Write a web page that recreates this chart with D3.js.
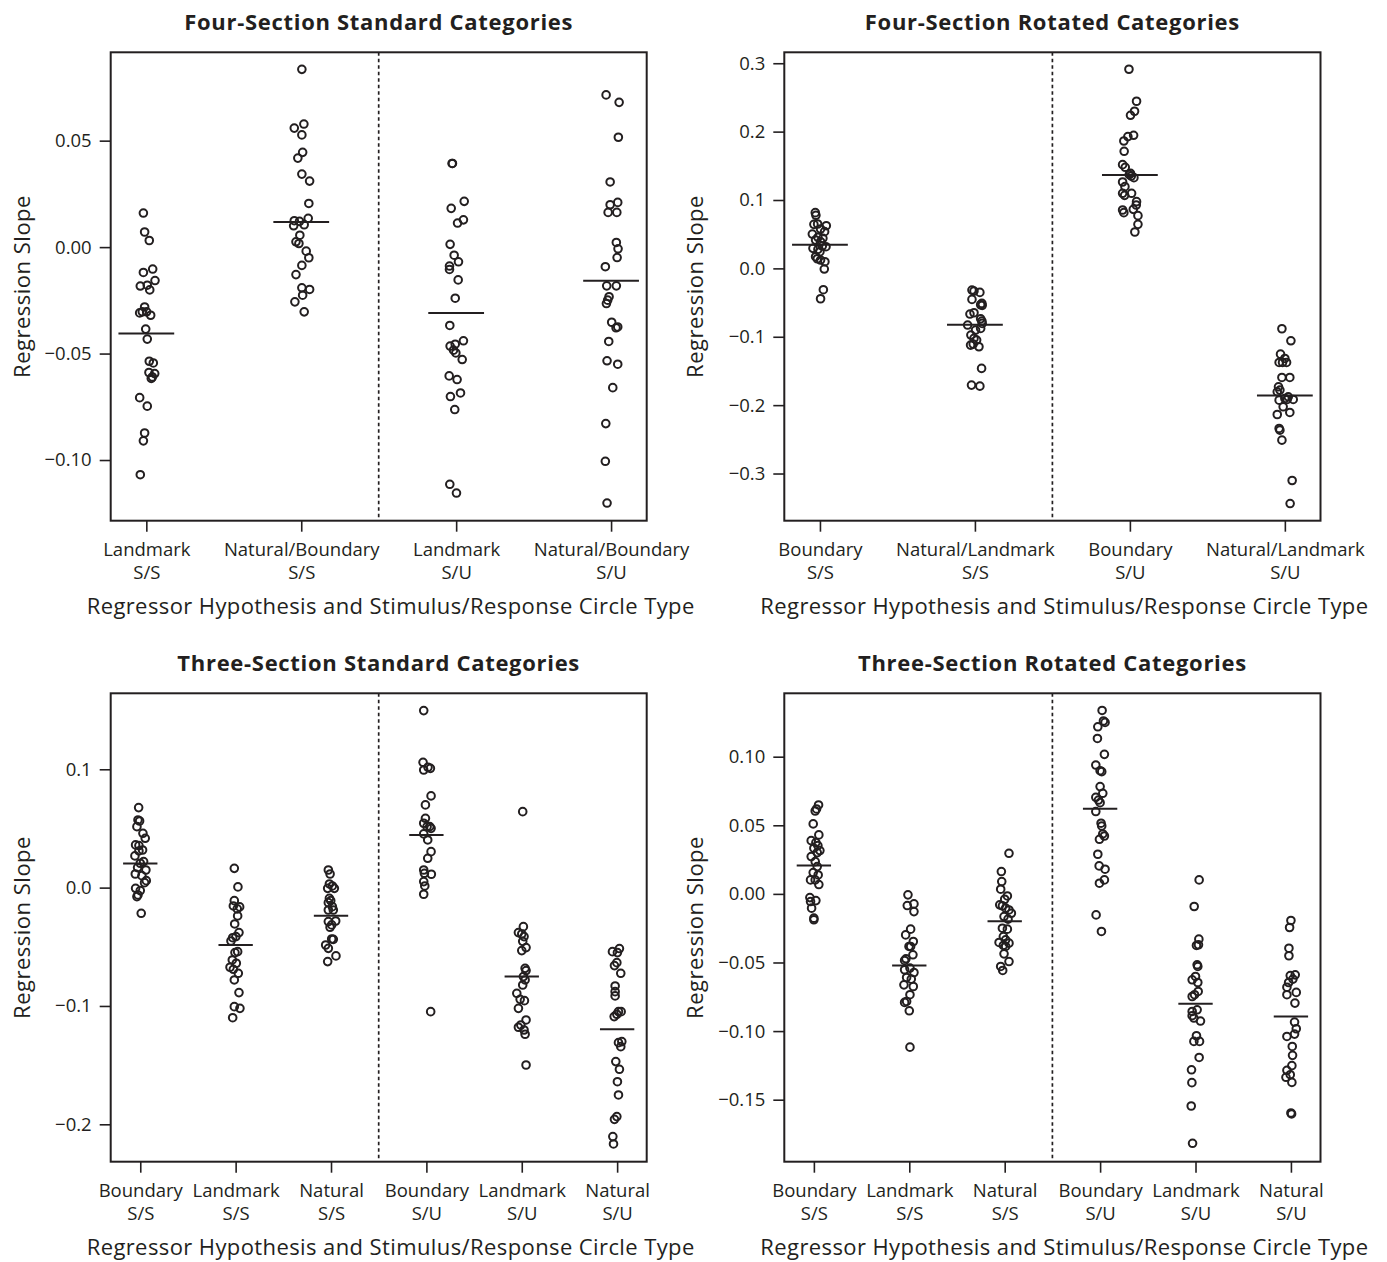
<!DOCTYPE html>
<html>
<head>
<meta charset="utf-8">
<script src="https://cdn.jsdelivr.net/npm/d3@7.9.0/dist/d3.min.js"></script>
<style>
  body { margin: 0; background: #fff; }
  svg { display: block; font-family: "Open Sans", "Noto Sans", sans-serif; }
</style>
</head>
<body>
<svg id="chart" width="1387" height="1262"></svg>
<script>
// ---- data: four-section standard ----
const fourStdCategories = [["Landmark", "S/S"], ["Natural/Boundary", "S/S"], ["Landmark", "S/U"], ["Natural/Boundary", "S/U"]];
const fourStdTicks = [-0.10, -0.05, 0.00, 0.05];
const fourStdMeans = [-0.0406, 0.0118, -0.0309, -0.0158];
const fourStdValues = [
  [0.016, 0.0071, 0.0031, -0.0103, -0.0119, -0.0157, -0.0183, -0.0179, -0.0201, -0.0281, -0.0304, -0.0309, -0.0304, -0.032, -0.0385, -0.0432, -0.0536, -0.0544, -0.0589, -0.0594, -0.0617, -0.061, -0.0707, -0.0747, -0.0873, -0.091, -0.1069],
  [0.0835, 0.0559, 0.0578, 0.0527, 0.0445, 0.0418, 0.0343, 0.031, 0.0205, 0.0135, 0.0124, 0.0121, 0.01, 0.0105, 0.0056, 0.0025, 0.0017, -0.0019, -0.005, -0.0086, -0.0129, -0.0191, -0.0199, -0.0226, -0.0257, -0.0304],
  [0.0393, 0.0393, 0.0215, 0.0182, 0.0128, 0.0113, 0.0013, -0.0038, -0.0069, -0.0089, -0.0105, -0.0154, -0.024, -0.0368, -0.044, -0.0465, -0.0456, -0.0484, -0.0497, -0.0528, -0.0605, -0.0622, -0.0685, -0.0702, -0.0763, -0.1114, -0.1155],
  [0.0715, 0.068, 0.0516, 0.0306, 0.021, 0.0199, 0.0163, 0.0163, 0.0022, -0.0008, -0.0049, -0.0092, -0.0182, -0.0182, -0.0233, -0.0249, -0.0265, -0.0353, -0.0379, -0.0375, -0.0443, -0.0534, -0.055, -0.066, -0.0829, -0.1006, -0.1202]
];
const fourStdJitter = [
  [-0.019, -0.011, 0.019, 0.041, -0.019, 0.056, -0.039, 0.006, 0.022, -0.011, -0.026, -0.043, 0.002, 0.028, -0.004, 0.006, 0.019, 0.045, 0.017, 0.054, 0.032, 0.039, -0.043, 0.006, -0.011, -0.019, -0.039],
  [0.004, -0.045, 0.017, 0.004, 0.009, -0.022, 0.004, 0.054, 0.049, 0.045, -0.045, -0.011, -0.049, 0.019, -0.009, -0.034, -0.015, 0.032, 0.049, 0.004, -0.034, 0.004, 0.054, 0.009, -0.041, 0.019],
  [-0.026, -0.024, 0.052, -0.032, 0.047, 0.009, -0.039, -0.013, 0.015, -0.043, -0.043, 0.013, -0.006, -0.041, 0.047, -0.039, -0.006, -0.017, -0.002, 0.039, -0.045, 0.006, 0.028, -0.037, -0.009, -0.041, 0.002],
  [-0.032, 0.052, 0.047, -0.006, 0.043, -0.006, -0.019, 0.037, 0.034, 0.045, 0.039, -0.037, -0.028, 0.034, -0.013, -0.022, -0.03, 0.004, 0.032, 0.043, -0.015, -0.026, 0.043, 0.011, -0.034, -0.037, -0.026]
];

// ---- data: four-section rotated ----
const fourRotCategories = [["Boundary", "S/S"], ["Natural/Landmark", "S/S"], ["Boundary", "S/U"], ["Natural/Landmark", "S/U"]];
const fourRotTicks = [-0.3, -0.2, -0.1, 0.0, 0.1, 0.2, 0.3];
const fourRotMeans = [0.0346, -0.0824, 0.1366, -0.1859];
const fourRotValues = [
  [0.0815, 0.0776, 0.0644, 0.0649, 0.0624, 0.0576, 0.0502, 0.0537, 0.0454, 0.0439, 0.0415, 0.039, 0.0317, 0.0293, 0.0278, 0.0327, 0.0244, 0.0171, 0.0141, 0.0122, 0.0098, -0.001, -0.0312, -0.0444],
  [-0.0317, -0.0332, -0.0351, -0.0454, -0.0512, -0.0532, -0.0541, -0.0668, -0.0649, -0.0737, -0.0771, -0.0805, -0.0829, -0.0878, -0.0902, -0.0976, -0.1024, -0.1122, -0.1107, -0.1146, -0.1049, -0.1463, -0.1707, -0.1722],
  [0.2912, 0.2444, 0.2298, 0.2239, 0.1946, 0.1927, 0.1863, 0.1712, 0.1517, 0.1478, 0.139, 0.1351, 0.1327, 0.1371, 0.1263, 0.1195, 0.1098, 0.1068, 0.1098, 0.0976, 0.0927, 0.0863, 0.0854, 0.0815, 0.0771, 0.0644, 0.0532],
  [-0.0883, -0.1059, -0.1254, -0.1317, -0.1376, -0.1376, -0.1376, -0.1595, -0.1595, -0.1732, -0.178, -0.1805, -0.1878, -0.1902, -0.1917, -0.1927, -0.1917, -0.2024, -0.2107, -0.2137, -0.2341, -0.2366, -0.2512, -0.3102, -0.3439]
];
const fourRotJitter = [
  [-0.03, -0.026, -0.039, -0.015, 0.041, 0.004, -0.049, 0.03, -0.013, 0.019, -0.028, 0.004, 0.039, -0.045, -0.013, 0.015, 0, -0.028, -0.017, 0.004, 0.032, 0.028, 0.022, 0.004],
  [-0.019, -0.006, 0.032, -0.019, 0.045, 0.037, 0.047, -0.032, -0.006, 0.037, 0.045, 0.047, -0.047, 0.037, 0.004, -0.026, -0.006, -0.028, -0.011, 0.026, 0.011, 0.043, -0.022, 0.032],
  [-0.006, 0.043, 0.03, 0.004, 0.024, -0.013, -0.039, -0.037, -0.047, -0.03, 0.004, 0.009, 0.026, -0.004, -0.047, -0.032, -0.047, -0.034, 0.011, 0.043, 0.041, 0.022, -0.047, -0.039, 0.052, 0.052, 0.032],
  [-0.019, 0.039, -0.028, 0, -0.037, -0.015, 0.011, 0.032, -0.019, -0.041, -0.032, -0.049, 0.022, 0, 0.054, -0.037, 0.015, -0.011, 0.032, -0.049, -0.037, -0.032, -0.019, 0.047, 0.034]
];

// ---- data: three-section standard ----
const threeStdCategories = [["Boundary", "S/S"], ["Landmark", "S/S"], ["Natural", "S/S"], ["Boundary", "S/U"], ["Landmark", "S/U"], ["Natural", "S/U"]];
const threeStdTicks = [-0.2, -0.1, 0.0, 0.1];
const threeStdMeans = [0.0203, -0.0485, -0.0237, 0.0445, -0.0752, -0.1197];
const threeStdValues = [
  [0.0676, 0.0572, 0.0563, 0.0515, 0.0459, 0.0417, 0.0361, 0.0355, 0.0318, 0.031, 0.0268, 0.022, 0.0206, 0.0169, 0.0149, 0.0115, 0.0101, 0.0059, 0.0042, -0.0006, -0.0025, -0.0062, -0.0076, -0.0217],
  [0.0163, 0.0006, -0.011, -0.0155, -0.0163, -0.018, -0.0239, -0.0307, -0.038, -0.0423, -0.0414, -0.0451, -0.0549, -0.0541, -0.0611, -0.0639, -0.0673, -0.069, -0.0724, -0.078, -0.0887, -0.102, -0.1006, -0.1099],
  [0.0149, 0.0115, 0.0031, 0.0014, -0.0006, -0.0006, -0.009, -0.011, -0.0127, -0.0161, -0.0189, -0.0189, -0.0282, -0.0287, -0.0315, -0.0335, -0.0437, -0.0434, -0.0485, -0.0513, -0.0577, -0.0625],
  [0.1496, 0.1059, 0.0994, 0.1017, 0.1008, 0.0775, 0.0699, 0.0586, 0.0544, 0.0515, 0.0515, 0.0501, 0.0454, 0.0403, 0.0304, 0.0248, 0.0149, 0.0121, 0.0113, 0.0051, 0.0014, -0.0056, -0.1048],
  [0.0642, -0.033, -0.038, -0.0392, -0.0414, -0.0454, -0.0507, -0.0532, -0.0682, -0.0701, -0.0752, -0.078, -0.0823, -0.0893, -0.0944, -0.0955, -0.102, -0.1118, -0.1161, -0.118, -0.1203, -0.1239, -0.1499],
  [-0.0541, -0.0515, -0.0549, -0.0659, -0.0634, -0.0724, -0.0831, -0.0879, -0.0915, -0.1048, -0.1048, -0.109, -0.107, -0.131, -0.1301, -0.1344, -0.147, -0.1535, -0.164, -0.1752, -0.1935, -0.1958, -0.2104, -0.2166]
];
const threeStdJitter = [
  [-0.017, -0.024, -0.007, -0.035, 0.028, 0.052, -0.049, -0.014, 0.024, -0.014, -0.056, 0.035, 0, -0.028, 0.059, -0.052, 0.017, 0.063, 0.045, -0.049, 0, -0.024, -0.035, 0.01],
  [-0.014, 0.024, -0.014, -0.024, 0.042, 0.017, 0.021, -0.01, 0.035, -0.031, 0.003, -0.049, -0.007, 0.021, -0.035, 0.007, -0.059, -0.024, 0.028, -0.014, 0.035, 0.045, -0.014, -0.031],
  [-0.028, -0.01, -0.017, 0.014, -0.035, 0.035, -0.017, -0.003, -0.028, 0.014, -0.028, 0.024, 0.049, -0.028, 0.007, -0.01, 0.024, 0.007, -0.056, -0.028, 0.052, -0.035],
  [-0.028, -0.035, -0.028, 0.017, 0.042, 0.049, -0.01, -0.01, -0.028, 0.007, 0.035, 0.049, -0.028, 0.014, 0.049, 0.014, -0.028, -0.021, 0.052, -0.028, -0.017, -0.028, 0.045],
  [0.01, 0.017, -0.035, 0, 0.024, 0.01, 0.045, 0, 0.035, 0.045, 0.017, 0.035, 0.01, -0.052, -0.017, 0.028, -0.035, 0.045, -0.01, -0.035, 0.024, 0.035, 0.045],
  [-0.049, 0.024, 0.003, -0.028, -0.003, 0.038, -0.021, -0.021, -0.021, 0.014, 0.042, -0.031, -0.003, 0.014, 0.049, 0.038, -0.014, 0.024, 0.003, 0.014, -0.003, -0.028, -0.045, -0.038]
];

// ---- data: three-section rotated ----
const threeRotCategories = [["Boundary", "S/S"], ["Landmark", "S/S"], ["Natural", "S/S"], ["Boundary", "S/U"], ["Landmark", "S/U"], ["Natural", "S/U"]];
const threeRotTicks = [-0.15, -0.10, -0.05, 0.00, 0.05, 0.10];
const threeRotMeans = [0.0206, -0.0522, -0.0199, 0.0621, -0.0801, -0.0893];
const threeRotValues = [
  [0.0648, 0.0619, 0.0604, 0.051, 0.043, 0.0388, 0.0374, 0.0352, 0.0333, 0.0316, 0.0301, 0.0272, 0.0235, 0.0199, 0.0155, 0.0138, 0.0102, 0.0102, 0.0068, -0.0027, -0.0049, -0.0056, -0.0104, -0.0177, -0.0189],
  [-0.0007, -0.0085, -0.0073, -0.0129, -0.0257, -0.0299, -0.0347, -0.0383, -0.0383, -0.0444, -0.0473, -0.0485, -0.0541, -0.0553, -0.0573, -0.0609, -0.0621, -0.0663, -0.0675, -0.0735, -0.0784, -0.0791, -0.0852, -0.1117],
  [0.0296, 0.0163, 0.009, 0.0034, -0.0015, -0.0039, -0.008, -0.0087, -0.0117, -0.0104, -0.0141, -0.0165, -0.0184, -0.025, -0.0257, -0.0311, -0.0335, -0.0354, -0.0359, -0.0376, -0.0383, -0.0437, -0.0493, -0.0529, -0.0558],
  [0.1337, 0.125, 0.126, 0.1218, 0.1133, 0.1017, 0.0939, 0.0898, 0.0891, 0.0782, 0.0733, 0.0704, 0.0684, 0.0665, 0.06, 0.0515, 0.0495, 0.0437, 0.0422, 0.0398, 0.0289, 0.0204, 0.018, 0.0102, 0.0078, -0.0153, -0.0274],
  [0.0102, -0.0092, -0.033, -0.0376, -0.0371, -0.0517, -0.0529, -0.0602, -0.0626, -0.0646, -0.0711, -0.0748, -0.0735, -0.0845, -0.0857, -0.0888, -0.0905, -0.0927, -0.1034, -0.1075, -0.1075, -0.1192, -0.1282, -0.1376, -0.1546, -0.1818],
  [-0.0194, -0.0245, -0.0396, -0.0451, -0.0595, -0.059, -0.0621, -0.0646, -0.068, -0.0718, -0.0735, -0.0796, -0.0934, -0.0983, -0.1022, -0.1039, -0.1112, -0.1177, -0.1252, -0.1286, -0.1318, -0.1337, -0.1374, -0.1597, -0.1604]
];
const threeRotJitter = [
  [0.049, 0.028, 0.014, -0.007, 0.052, -0.028, 0.021, 0.042, 0, 0.063, 0.035, -0.028, 0.014, 0.035, -0.007, 0.045, -0.035, 0.014, 0.052, -0.042, 0.021, -0.035, -0.024, 0, 0],
  [-0.014, -0.021, 0.049, 0.049, 0.014, -0.038, 0.042, 0.014, -0.003, 0.038, -0.035, -0.049, 0.007, -0.049, 0.049, -0.028, 0.021, -0.056, 0.042, 0.007, -0.028, -0.049, 0, 0.007],
  [0.045, -0.035, -0.031, -0.042, 0.028, 0, -0.052, -0.024, 0.045, 0.01, 0.07, -0.007, 0.035, -0.024, 0.028, -0.014, 0.01, -0.059, 0.045, -0.014, 0.01, -0.007, 0.045, -0.042, -0.021],
  [0.021, 0.052, 0.035, -0.024, -0.028, 0.045, -0.045, 0, 0.017, 0, 0.028, -0.045, -0.017, 0, -0.045, 0.01, 0.017, 0.028, 0.045, -0.007, -0.024, -0.01, 0.052, 0.045, -0.007, -0.042, 0.014],
  [0.038, -0.014, 0.035, 0.01, 0.031, 0.017, 0.024, 0, -0.035, 0.024, 0.028, -0.035, -0.01, 0.017, -0.035, -0.035, -0.017, 0.052, 0.01, -0.017, 0.042, 0.038, -0.042, -0.038, -0.045, -0.031],
  [0, -0.014, -0.021, -0.021, -0.007, 0.045, 0.021, -0.024, -0.042, 0.056, -0.042, 0.042, 0.038, 0.056, 0.038, -0.042, 0.014, 0.017, 0.01, -0.042, -0.007, -0.052, 0.01, 0, 0.007]
];

const xTitle = "Regressor Hypothesis and Stimulus/Response Circle Type";
const yTitle = "Regression Slope";

const ink = "#231f20";
const svg = d3.select("#chart");

function drawPanel(cfg) {
  const { title, categories, ticks, fmt, means, values, jitter, yDomain, box } = cfg;
  const n = categories.length;
  const pad = n === 4 ? 0.23 : 0.31;

  const x = d3.scaleLinear().domain([1 - pad, n + pad]).range([box.left, box.right]);
  const y = d3.scaleLinear().domain(yDomain).range([box.bottom, box.top]);

  const g = svg.append("g");

  // title
  g.append("text")
    .attr("x", (box.left + box.right) / 2)
    .attr("y", box.top - 22)
    .attr("text-anchor", "middle")
    .attr("font-weight", "bold")
    .attr("font-size", 22)
    .attr("letter-spacing", 0.7)
    .attr("fill", ink)
    .text(title);

  // y axis
  const yAxis = g.append("g")
    .attr("transform", `translate(${box.left},0)`)
    .call(d3.axisLeft(y).tickValues(ticks).tickFormat(d3.format(fmt)).tickSize(11).tickPadding(8));
  yAxis.select(".domain").remove();
  yAxis.selectAll(".tick line").attr("stroke", ink).attr("stroke-width", 1.6);
  yAxis.selectAll(".tick text").attr("fill", ink).attr("font-size", 18.5).attr("font-family", "Open Sans");

  // x axis ticks + two-line labels
  const xAxis = g.append("g")
    .attr("transform", `translate(0,${box.bottom})`)
    .call(d3.axisBottom(x).tickValues(d3.range(1, n + 1)).tickSize(11).tickFormat(""));
  xAxis.select(".domain").remove();
  xAxis.selectAll(".tick line").attr("stroke", ink).attr("stroke-width", 1.6);
  xAxis.selectAll(".tick").each(function (d) {
    const t = d3.select(this).append("text")
      .attr("text-anchor", "middle")
      .attr("fill", ink)
      .attr("font-size", 18.5)
      .attr("font-family", "Open Sans");
    t.append("tspan").attr("x", 0).attr("y", 35).text(categories[d - 1][0]);
    t.append("tspan").attr("x", 0).attr("y", 58).text(categories[d - 1][1]);
  });

  // axis titles
  g.append("text")
    .attr("x", (box.left + box.right) / 2 + 12)
    .attr("y", box.bottom + 93)
    .attr("text-anchor", "middle")
    .attr("font-size", 22)
    .attr("letter-spacing", 0.4)
    .attr("fill", ink)
    .text(xTitle);

  g.append("text")
    .attr("transform", `translate(${box.left - 90},${(box.top + box.bottom) / 2}) rotate(-90)`)
    .attr("text-anchor", "middle")
    .attr("dominant-baseline", "central")
    .attr("font-size", 22)
    .attr("letter-spacing", 0.5)
    .attr("fill", ink)
    .text(yTitle);

  // dashed divider between S/S and S/U
  g.append("line")
    .attr("x1", x(n / 2 + 0.5)).attr("x2", x(n / 2 + 0.5))
    .attr("y1", box.top).attr("y2", box.bottom)
    .attr("stroke", ink)
    .attr("stroke-width", 1.7)
    .attr("stroke-dasharray", "3.5,3");

  // points
  const pts = values.flatMap((vals, i) => vals.map((v, k) => ({ cat: i + 1, v, j: jitter[i][k] })));
  g.append("g").selectAll("circle")
    .data(pts)
    .join("circle")
    .attr("cx", d => x(d.cat + d.j))
    .attr("cy", d => y(d.v))
    .attr("r", 3.8)
    .attr("fill", "none")
    .attr("stroke", ink)
    .attr("stroke-width", 2);

  // mean bars
  g.append("g").selectAll("line")
    .data(means)
    .join("line")
    .attr("x1", (d, i) => x(i + 1 - 0.18))
    .attr("x2", (d, i) => x(i + 1 + 0.18))
    .attr("y1", d => y(d))
    .attr("y2", d => y(d))
    .attr("stroke", ink)
    .attr("stroke-width", 2);

  // frame
  g.append("rect")
    .attr("x", box.left).attr("y", box.top)
    .attr("width", box.right - box.left).attr("height", box.bottom - box.top)
    .attr("fill", "none")
    .attr("stroke", ink)
    .attr("stroke-width", 2);
}

const topRow = { top: 52.3, bottom: 520.7 };
const bottomRow = { top: 693.3, bottom: 1161.7 };
const leftCol = { left: 110.7, right: 646.7 };
const rightCol = { left: 784.3, right: 1320.5 };

drawPanel({
  title: "Four-Section Standard Categories",
  categories: fourStdCategories, ticks: fourStdTicks, fmt: ".2f",
  means: fourStdMeans, values: fourStdValues, jitter: fourStdJitter,
  yDomain: [-0.1285, 0.0915],
  box: { ...leftCol, ...topRow }
});

drawPanel({
  title: "Four-Section Rotated Categories",
  categories: fourRotCategories, ticks: fourRotTicks, fmt: ".1f",
  means: fourRotMeans, values: fourRotValues, jitter: fourRotJitter,
  yDomain: [-0.369, 0.316],
  box: { ...rightCol, ...topRow }
});

drawPanel({
  title: "Three-Section Standard Categories",
  categories: threeStdCategories, ticks: threeStdTicks, fmt: ".1f",
  means: threeStdMeans, values: threeStdValues, jitter: threeStdJitter,
  yDomain: [-0.2316, 0.1642],
  box: { ...leftCol, ...bottomRow }
});

drawPanel({
  title: "Three-Section Rotated Categories",
  categories: threeRotCategories, ticks: threeRotTicks, fmt: ".2f",
  means: threeRotMeans, values: threeRotValues, jitter: threeRotJitter,
  yDomain: [-0.1952, 0.1462],
  box: { ...rightCol, ...bottomRow }
});
</script>
</body>
</html>
